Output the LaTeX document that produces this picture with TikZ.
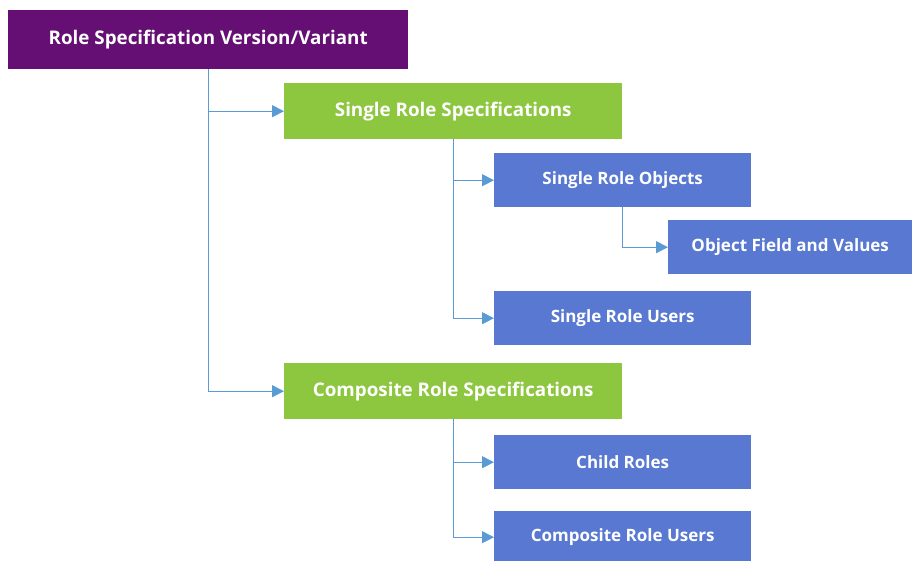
\documentclass[tikz,border=0pt]{standalone}
\usepackage{fontspec}
\setmainfont{Open Sans}
\usetikzlibrary{arrows.meta}
\definecolor{rolepurple}{RGB}{101,15,116}
\definecolor{rolegreen}{RGB}{141,198,63}
\definecolor{roleblue}{RGB}{88,120,209}
\definecolor{linkblue}{RGB}{91,155,213}
\tikzset{
  box/.style={anchor=north west, inner sep=0pt, text=white, font=\bfseries\fontsize{17}{19}\selectfont},
  topbox/.style={box, fill=rolepurple, minimum width=400pt, minimum height=59pt, font=\bfseries\fontsize{18.8}{21}\selectfont},
  specbox/.style={box, fill=rolegreen, minimum width=338pt, minimum height=56pt, font=\bfseries\fontsize{18.8}{21}\selectfont},
  itembox/.style={box, fill=roleblue, minimum width=257pt, minimum height=54pt},
  link/.style={draw=linkblue, line width=1pt, -{Triangle[length=12pt, width=12pt]}}
}
\begin{document}
\begin{tikzpicture}[x=1pt, y=-1pt]
\useasboundingbox (0,0) rectangle (912,561);
% boxes
\node[topbox] (rsv) at (8,10) {Role Specification Version/Variant};
\node[specbox] (srs) at (284,83) {Single Role Specifications};
\node[itembox] (sro) at (494,153) {Single Role Objects};
\node[itembox, minimum width=244pt] (ofv) at (668,220) {Object Field and Values};
\node[itembox] (sru) at (494,291) {Single Role Users};
\node[specbox] (crs) at (284,363) {Composite Role Specifications};
\node[itembox] (chr) at (494,435) {Child Roles};
\node[itembox, minimum height=52pt] (cru) at (494,511) {Composite Role Users};
% connectors
\draw[link] (rsv.south) |- (srs.west);
\draw[link] (rsv.south) |- (crs.west);
\draw[link] (srs.south) |- (sro.west);
\draw[link] (srs.south) |- (sru.west);
\draw[link] (sro.south) |- (ofv.west);
\draw[link] (crs.south) |- (chr.west);
\draw[link] (crs.south) |- (cru.west);
\end{tikzpicture}
\end{document}
